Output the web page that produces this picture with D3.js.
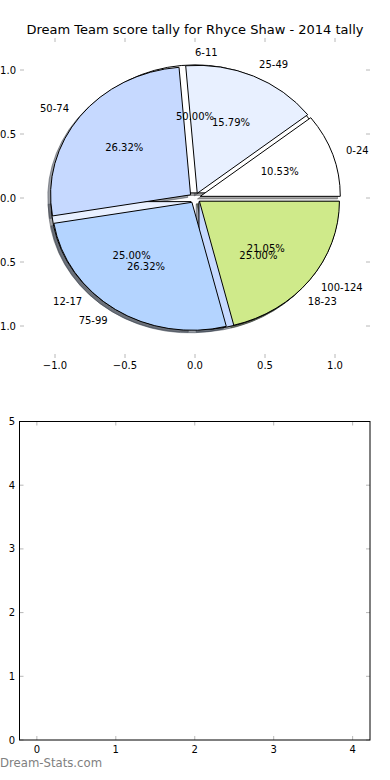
<!DOCTYPE html>
<html lang="en">
<head>
<meta charset="UTF-8">
<title>Dream Team score tally</title>
<script src="https://d3js.org/d3.v7.min.js"></script>
<style>
  *{padding:0; margin:0; box-sizing:border-box;}
  body{background:#fff; width:390px; height:780px; overflow:hidden;}
  text{font-family:"DejaVu Sans", Arial, sans-serif; fill:#000;}
  .tick-mark{stroke:#b8b8b8; stroke-width:1;}
  .frame{fill:none; stroke:#000; stroke-width:1;}
</style>
</head>
<body>
<script>
// score tally wedges (drawn on top)
const tallyLabels = ["0-24", "25-49", "50-74", "75-99", "100-124"];
const tallyCounts = [2, 3, 5, 5, 4];
// score range wedges (drawn underneath)
const rangeLabels = ["6-11", "12-17", "18-23"];
const rangeCounts = [2, 1, 1];
const pieColors = ["#ffffff", "#e8f0ff", "#c6d9ff", "#b4d4ff", "#cfea8a"];
const explodeBy = 0.04;

const pieTicks = [-1.0, -0.5, 0.0, 0.5, 1.0];
const emptyXTicks = [0, 1, 2, 3, 4];
const emptyYTicks = [0, 1, 2, 3, 4, 5];

const svg = d3.select("body").append("svg")
    .attr("width", 390).attr("height", 780);

// ---- pie axes ----
const px = d3.scaleLinear().domain([-1.25, 1.25]).range([20, 370]);
const py = d3.scaleLinear().domain([-1.25, 1.25]).range([358, 38]);

svg.append("text")
    .attr("x", 195).attr("y", 34)
    .attr("text-anchor", "middle")
    .style("font-size", "13px")
    .text("Dream Team score tally for Rhyce Shaw - 2014 tally");

const pieGen = d3.pie().sort(null).startAngle(0).endAngle(2 * Math.PI);

function wedgeShape(d, ox, oy) {
  // matplotlib style: angles counter-clockwise from east
  const a0 = d.startAngle, a1 = d.endAngle, m = (a0 + a1) / 2;
  const cx = ox + explodeBy * Math.cos(m), cy = oy + explodeBy * Math.sin(m);
  const rx = px(1) - px(0), ry = py(0) - py(1);
  const large = (a1 - a0) > Math.PI ? 1 : 0;
  return "M" + px(cx) + "," + py(cy) +
    " L" + px(cx + Math.cos(a0)) + "," + py(cy + Math.sin(a0)) +
    " A" + rx + "," + ry + " 0 " + large + " 0 " +
    px(cx + Math.cos(a1)) + "," + py(cy + Math.sin(a1)) + " Z";
}

function shadowColor(c) {
  const k = d3.rgb(c);
  return "rgba(" + Math.round(k.r * 0.3) + "," + Math.round(k.g * 0.3) + "," + Math.round(k.b * 0.3) + ",0.5)";
}

const rangeArcs = pieGen(rangeCounts);
const tallyArcs = pieGen(tallyCounts);
const pies = [
  {arcs: rangeArcs, labels: rangeLabels},
  {arcs: tallyArcs, labels: tallyLabels}
];

// shadows first, then wedges, then texts
const gShadow = svg.append("g");
const gWedge = svg.append("g");
const gText = svg.append("g");

pies.forEach(function(p) {
  gShadow.selectAll(null).data(p.arcs).enter().append("path")
      .attr("d", function(d) { return wedgeShape(d, -0.02, -0.02); })
      .attr("fill", function(d, i) { return shadowColor(pieColors[i]); })
      .attr("stroke", function(d, i) { return shadowColor(pieColors[i]); })
      .attr("stroke-width", 1);
});

pies.forEach(function(p) {
  gWedge.selectAll(null).data(p.arcs).enter().append("path")
      .attr("d", function(d) { return wedgeShape(d, 0, 0); })
      .attr("fill", function(d, i) { return pieColors[i]; })
      .attr("stroke", "#000")
      .attr("stroke-width", 1)
      .attr("stroke-linejoin", "miter");
});

pies.forEach(function(p) {
  const total = d3.sum(p.arcs, function(d) { return d.value; });
  p.arcs.forEach(function(d, i) {
    const m = (d.startAngle + d.endAngle) / 2;
    const c = Math.cos(m), s = Math.sin(m);
    const lx = (explodeBy + 1.1) * c, ly = (explodeBy + 1.1) * s;
    gText.append("text")
        .attr("x", px(lx)).attr("y", py(ly))
        .attr("dy", "0.35em")
        .attr("text-anchor", lx > 0 ? "start" : "end")
        .style("font-size", "10px")
        .text(p.labels[i]);
    gText.append("text")
        .attr("x", px((explodeBy + 0.6) * c)).attr("y", py((explodeBy + 0.6) * s))
        .attr("dy", "0.35em")
        .attr("text-anchor", "middle")
        .style("font-size", "10px")
        .text((100 * d.value / total).toFixed(2) + "%");
  });
});

// pie axis ticks (no frame)
const fmtPie = function(v) { return (v < 0 ? "\u2212" : "") + Math.abs(v).toFixed(1); };
const gPieAx = svg.append("g");
pieTicks.forEach(function(t) {
  gPieAx.append("line").attr("class", "tick-mark")
      .attr("x1", px(t)).attr("x2", px(t)).attr("y1", 38).attr("y2", 42);
  gPieAx.append("line").attr("class", "tick-mark")
      .attr("x1", px(t)).attr("x2", px(t)).attr("y1", 354).attr("y2", 358);
  gPieAx.append("line").attr("class", "tick-mark")
      .attr("x1", 20).attr("x2", 24).attr("y1", py(t)).attr("y2", py(t));
  gPieAx.append("line").attr("class", "tick-mark")
      .attr("x1", 366).attr("x2", 370).attr("y1", py(t)).attr("y2", py(t));
  gPieAx.append("text")
      .attr("x", px(t)).attr("y", 365).attr("dy", "0.35em")
      .attr("text-anchor", "middle").style("font-size", "10px")
      .text(fmtPie(t));
  gPieAx.append("text")
      .attr("x", 16).attr("y", py(t)).attr("dy", "0.35em")
      .attr("text-anchor", "end").style("font-size", "10px")
      .text(fmtPie(t));
});

// ---- empty axes below ----
const bx = d3.scaleLinear().domain([-0.22, 4.22]).range([19.5, 370]);
const by = d3.scaleLinear().domain([0, 5]).range([740, 421.5]);
const gB = svg.append("g");

emptyXTicks.forEach(function(t) {
  gB.append("line").attr("class", "tick-mark")
      .attr("x1", bx(t)).attr("x2", bx(t)).attr("y1", 740).attr("y2", 736);
  gB.append("line").attr("class", "tick-mark")
      .attr("x1", bx(t)).attr("x2", bx(t)).attr("y1", 421.5).attr("y2", 425.5);
  gB.append("text")
      .attr("x", bx(t)).attr("y", 749).attr("dy", "0.35em")
      .attr("text-anchor", "middle").style("font-size", "10px")
      .text(t);
});
emptyYTicks.forEach(function(t) {
  gB.append("line").attr("class", "tick-mark")
      .attr("x1", 19.5).attr("x2", 23.5).attr("y1", by(t)).attr("y2", by(t));
  gB.append("line").attr("class", "tick-mark")
      .attr("x1", 366).attr("x2", 370).attr("y1", by(t)).attr("y2", by(t));
  gB.append("text")
      .attr("x", 15).attr("y", by(t)).attr("dy", "0.35em")
      .attr("text-anchor", "end").style("font-size", "10px")
      .text(t);
});
gB.append("rect").attr("class", "frame")
    .attr("x", 19.5).attr("y", 421.5)
    .attr("width", 370 - 19.5).attr("height", 740 - 421.5);

// watermark
svg.append("text")
    .attr("x", 0).attr("y", 767)
    .style("font-size", "11.7px")
    .style("fill", "#808080")
    .text("Dream-Stats.com");
</script>
</body>
</html>
